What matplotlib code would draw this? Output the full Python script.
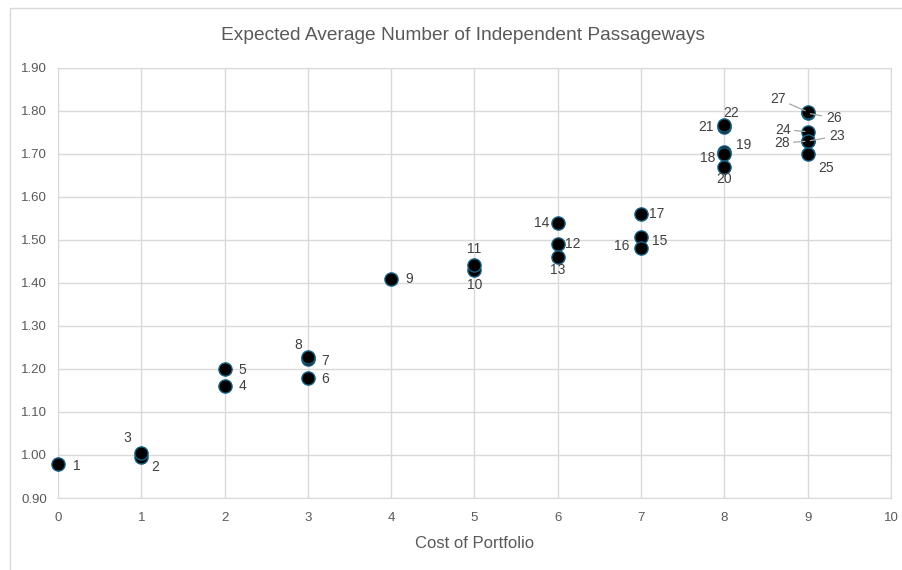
import matplotlib.pyplot as plt
from matplotlib.patches import Rectangle

# Portfolios: cost vs expected average number of independent passageways
labels = list(range(1, 29))
cost = [0, 1, 1, 2, 2, 3, 3, 3, 4, 5, 5, 6, 6, 6, 7, 7, 7,
        8, 8, 8, 8, 8, 9, 9, 9, 9, 9, 9]
passageways = [0.978, 0.996, 1.005, 1.161, 1.200, 1.179, 1.222, 1.228,
               1.409, 1.430, 1.441, 1.489, 1.460, 1.539, 1.507, 1.480,
               1.560, 1.704, 1.700, 1.670, 1.762, 1.766, 1.729, 1.751,
               1.699, 1.794, 1.797, 1.729]

# label offsets in pixels (dx right, dy up)
offsets = {
    1: (19, -2), 2: (14, -10), 3: (-14, 15), 4: (18, 0), 5: (18, -1),
    6: (17, -1), 7: (17, -2), 8: (-10, 12), 9: (18, 0), 10: (0, -15),
    11: (0, 16), 12: (15, 0), 13: (0, -13), 14: (-16, 0), 15: (19, -4),
    16: (-19, 2), 17: (16, 0), 18: (-17, -6), 19: (19, 9), 20: (0, -12),
    21: (-18, 0), 22: (7, 12), 23: (29, 5), 24: (-25, 2), 25: (18, -14),
    26: (26, -5), 27: (-30, 13), 28: (-26, -2),
}
# labels pushed away from crowded points get a leader line
leaders = {23, 24, 26, 27, 28}

text_col = "#595959"
grid_col = "#d9d9d9"
plt.rcParams["font.family"] = ["Liberation Sans", "DejaVu Sans"]

W, H = 903, 570
fig = plt.figure(figsize=(W / 100, H / 100), dpi=100)
fig.patches.append(Rectangle((10 / W, -0.1), 1.2, 1.1 - 8 / H, transform=fig.transFigure,
                             fill=False, edgecolor=grid_col, linewidth=1))
ax = fig.add_axes([58 / W, 1 - 498 / H, (891 - 58) / W, (498 - 67.5) / H])

ax.scatter(cost, passageways, s=90, color="black", edgecolors="#156082",
           linewidths=1, zorder=3, clip_on=False)

for lab, x, y in zip(labels, cost, passageways):
    dx, dy = offsets[lab]
    arrow = None
    if lab in leaders:
        arrow = dict(arrowstyle="-", color="#a6a6a6", lw=0.9,
                     shrinkA=1, shrinkB=2)
    ax.annotate(str(lab), (x, y), xytext=(dx * 0.72, dy * 0.72),
                textcoords="offset points", ha="center", va="center",
                fontsize=10, color="#404040", arrowprops=arrow, zorder=4)

ax.set_xlim(0, 10)
ax.set_ylim(0.9, 1.9)
ax.set_xticks(range(0, 11))
ax.set_yticks([0.9 + 0.1 * i for i in range(11)])
ax.set_yticklabels([f"{0.9 + 0.1 * i:.2f}" for i in range(11)])
ax.tick_params(length=0, colors=text_col, labelsize=9.5)
ax.tick_params(axis="x", pad=10)
ax.tick_params(axis="y", pad=8)
ax.grid(True, color=grid_col, linewidth=1)
ax.set_axisbelow(True)
for side in ["top", "right", "left", "bottom"]:
    ax.spines[side].set_color(grid_col)

ax.set_xlabel("Cost of Portfolio", fontsize=12, color=text_col, labelpad=9)
fig.text(463 / W, 1 - 35 / H, "Expected Average Number of Independent Passageways",
         ha="center", va="center", fontsize=13.8, color=text_col)

fig.savefig("out.png", dpi=100)
